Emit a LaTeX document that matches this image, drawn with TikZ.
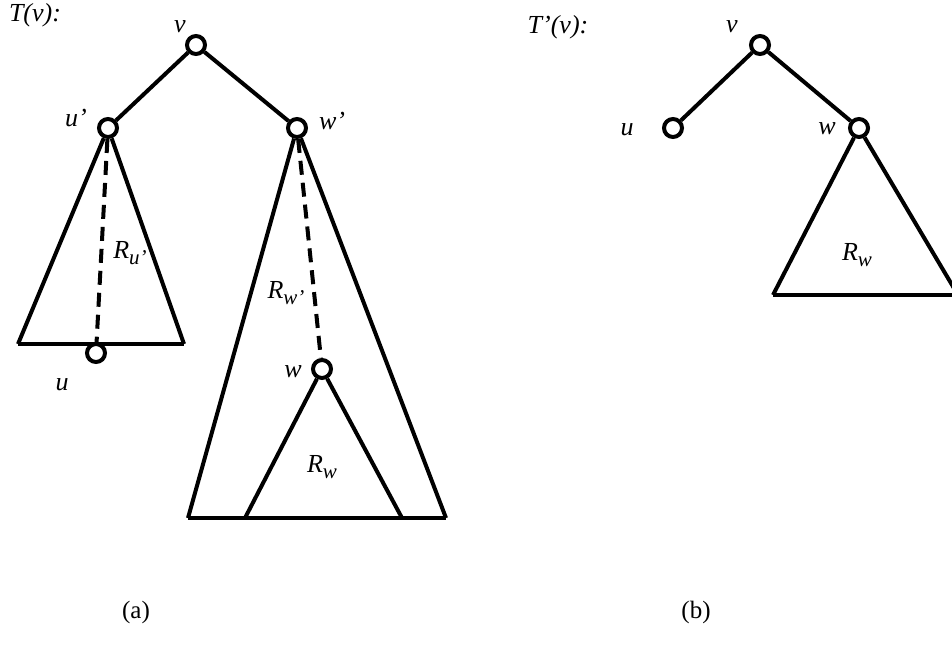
\documentclass[tikz,border=0pt]{standalone}
\usepackage{fontspec}
\setmainfont{Liberation Serif}
\newcommand{\Rsub}[1]{R\raisebox{-6pt}{\fontsize{21}{22}\selectfont #1}}
\begin{document}
\begin{tikzpicture}[x=1pt,y=-1pt,
  vtx/.style={circle,draw,fill=white,line width=4pt,minimum size=18pt,inner sep=0pt},
  edge/.style={line width=4pt},
  dashedge/.style={line width=4pt,dash pattern=on 14pt off 8pt},
  lbl/.style={font=\fontsize{26}{28}\selectfont\itshape,inner sep=0pt},
  captxt/.style={font=\fontsize{25}{27}\selectfont,inner sep=0pt}]
\useasboundingbox (0,0) rectangle (952,656);
% ---------- (a) ----------
\node[lbl] (Tv) at (35,15) {T(v):};
\node[vtx] (v) at (196,45) {};
\node[vtx] (up) at (108,128) {};
\node[vtx] (wp) at (297,128) {};
\coordinate (lbl1) at (18,344);
\coordinate (lbr1) at (184,344);
\coordinate (bbl) at (188,518);
\coordinate (bbr) at (446,518);
\coordinate (ibl) at (245,518);
\coordinate (ibr) at (402,518);
\draw[edge] (v) -- (up);
\draw[edge] (v) -- (wp);
\draw[edge] (up) -- (lbl1);
\draw[edge] (up) -- (lbr1);
\draw[edge] (lbl1) -- (lbr1);
\draw[edge] (wp) -- (bbl);
\draw[edge] (wp) -- (bbr);
\draw[edge] (bbl) -- (bbr);
\node[vtx] (u) at (96,353) {};
\node[vtx] (w) at (322,369) {};
\draw[dashedge] (up) -- (u);
\draw[dashedge] (wp) -- (w);
\draw[edge] (w) -- (ibl);
\draw[edge] (w) -- (ibr);
\node[lbl] (vl) at (180,27) {v};
\node[lbl] (upl) at (76,118) {u’};
\node[lbl] (wpl) at (332,121) {w’};
\node[lbl] (ul) at (62,385) {u};
\node[lbl] (wl) at (293,372) {w};
\node[lbl] (Rup) at (130,253) {\Rsub{u’}};
\node[lbl] (Rwp) at (286,293) {\Rsub{w’}};
\node[lbl] (Rw) at (322,467) {\Rsub{w}};
\node[captxt] (ca) at (136,612) {(a)};
% ---------- (b) ----------
\node[lbl] (Tpv) at (558,27) {T’(v):};
\node[vtx] (v2) at (760,45) {};
\node[vtx] (u2) at (673,128) {};
\node[vtx] (w2) at (859,128) {};
\coordinate (rbl) at (773,295);
\coordinate (rbr) at (958,295);
\draw[edge] (v2) -- (u2);
\draw[edge] (v2) -- (w2);
\draw[edge] (w2) -- (rbl);
\draw[edge] (w2) -- (rbr);
\draw[edge] (rbl) -- (rbr);
\node[lbl] (v2l) at (732,27) {v};
\node[lbl] (u2l) at (627,130) {u};
\node[lbl] (w2l) at (827,129) {w};
\node[lbl] (Rw2) at (857,255) {\Rsub{w}};
\node[captxt] (cb) at (696,612) {(b)};
\end{tikzpicture}
\end{document}
